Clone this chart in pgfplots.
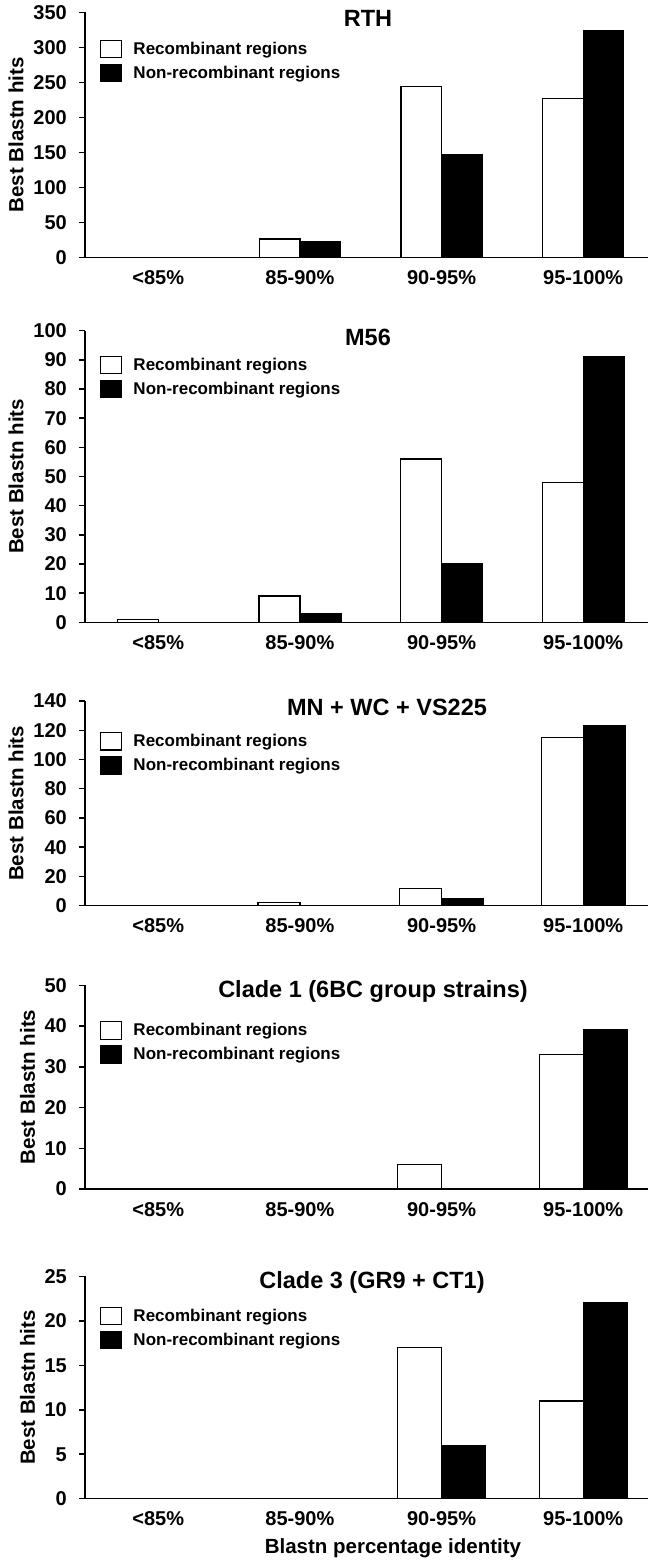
\documentclass[border=0pt]{standalone}
\usepackage{fontspec}
\setmainfont{Liberation Sans}
\usepackage{pgfplots}
\pgfplotsset{compat=1.18}

\newcommand\tickfont{\fontsize{20}{24}\selectfont\bfseries}
\newcommand\labfont{\fontsize{20.5}{24}\selectfont\bfseries}
\newcommand\titfont{\fontsize{23.5}{28}\selectfont\bfseries}
\newcommand\legfont{\fontsize{17}{20}\selectfont\bfseries}

\pgfplotsset{
  panel/.style={
    scale only axis, width=563pt,
    xmin=-0.517, xmax=3.457, ymin=0,
    axis x line*=bottom, axis y line*=left,
    x axis line style={-, line width=1.5pt},
    y axis line style={-, line width=1.5pt},
    xtick={0,1,2,3},
    xticklabels={{<85\%},{85-90\%},{90-95\%},{95-100\%}},
    major x tick style={draw=none},
    tick align=outside,
    major tick length=6pt,
    major y tick style={line width=1.5pt, black},
    /pgf/number format/assume math mode=true,
    tick label style={font=\tickfont},
    xticklabel style={yshift=-3.6pt},
    yticklabel style={xshift=-8.6pt},
    ylabel={Best Blastn hits},
    ylabel style={font=\labfont, at={(axis description cs:-0.12256,0.5)}, anchor=center},
    title style={font=\titfont, at={(axis description cs:0.5,1)}, anchor=center, yshift=-12.5pt},
    legend cell align=left,
    legend style={draw=none, fill=none, inner sep=0pt, outer sep=0pt,
      at={(axis description cs:0.027,1)}, anchor=north west,
      font=\legfont, row sep=5.1pt, column sep=9pt},
  },
  legbox/.style={legend image code/.code={\draw[##1, line width=1.3pt] (0pt,-8.8pt) rectangle (21pt,8.8pt);}},
  wbar/.style={ybar, bar width=#1pt, bar shift=-#1pt/2, fill=white, draw=black, line width=1.3pt, legbox},
  kbar/.style={ybar, bar width=#1pt, bar shift=#1pt/2, fill=black, draw=black, line width=1.3pt, legbox},
}

\begin{document}
\begin{tikzpicture}
\path[use as bounding box] (0,0) rectangle (652pt,-1563pt);

% Panel 1: RTH
\begin{axis}[panel, at={(85pt,-257.3pt)}, anchor=south west, height=245pt,
  ymax=350, ytick={0,50,...,350}, title={RTH}, title style={xshift=1.5pt},
  legend style={yshift=-27.25pt}]
\addplot[wbar=40.5] coordinates {(0,0) (1,26) (2,244) (3,227)};
\addlegendentry{Recombinant regions}
\addplot[kbar=40.5] coordinates {(0,0) (1,22) (2,147) (3,324)};
\addlegendentry{Non-recombinant regions}
\end{axis}

% Panel 2: M56
\begin{axis}[panel, at={(85pt,-622.3pt)}, anchor=south west, height=291.6pt,
  ymax=100, ytick={0,10,...,100}, title={M56}, title style={xshift=1.5pt},
  legend style={yshift=-24.85pt}]
\addplot[wbar=41] coordinates {(0,1) (1,9) (2,56) (3,48)};
\addlegendentry{Recombinant regions}
\addplot[kbar=41] coordinates {(0,0) (1,3) (2,20) (3,91)};
\addlegendentry{Non-recombinant regions}
\end{axis}

% Panel 3: MN + WC + VS225
\begin{axis}[panel, at={(85pt,-905.7pt)}, anchor=south west, height=204.7pt,
  ymax=140, ytick={0,20,...,140}, title={MN + WC + VS225}, title style={xshift=20.5pt},
  legend style={yshift=-30.85pt}]
\addplot[wbar=42] coordinates {(0,0) (1,2) (2,12) (3,115)};
\addlegendentry{Recombinant regions}
\addplot[kbar=42] coordinates {(0,0) (1,0) (2,5) (3,123)};
\addlegendentry{Non-recombinant regions}
\end{axis}

% Panel 4: Clade 1
\begin{axis}[panel, at={(85pt,-1189pt)}, anchor=south west, height=203.7pt,
  ymax=50, ytick={0,10,...,50}, title={Clade 1 (6BC group strains)}, title style={xshift=6.5pt},
  ylabel style={at={(axis description cs:-0.10213,0.5)}},
  legend style={yshift=-35.75pt}]
\addplot[wbar=44] coordinates {(0,0) (1,0) (2,6) (3,33)};
\addlegendentry{Recombinant regions}
\addplot[kbar=44] coordinates {(0,0) (1,0) (2,0) (3,39)};
\addlegendentry{Non-recombinant regions}
\end{axis}

% Panel 5: Clade 3
\begin{axis}[panel, at={(85pt,-1498.7pt)}, anchor=south west, height=222.4pt,
  ymax=25, ytick={0,5,...,25}, title={Clade 3 (GR9 + CT1)}, title style={xshift=5.5pt},
  ylabel style={at={(axis description cs:-0.10213,0.5)}},
  xlabel={Blastn percentage identity},
  xlabel style={font=\labfont, at={(axis description cs:0.547,0)}, anchor=center, yshift=-49.3pt},
  legend style={yshift=-30.25pt}]
\addplot[wbar=44] coordinates {(0,0) (1,0) (2,17) (3,11)};
\addlegendentry{Recombinant regions}
\addplot[kbar=44] coordinates {(0,0) (1,0) (2,6) (3,22)};
\addlegendentry{Non-recombinant regions}
\end{axis}
\end{tikzpicture}
\end{document}
